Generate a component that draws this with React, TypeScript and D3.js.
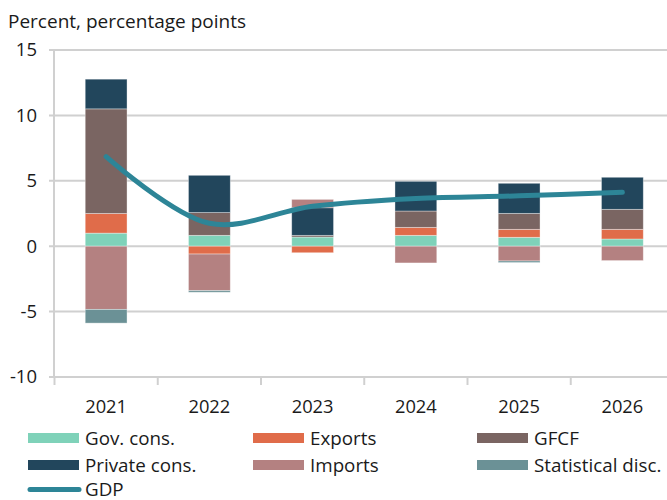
import React from "react";
import * as d3 from "d3";

const years = ["2021", "2022", "2023", "2024", "2025", "2026"];
const govCons = [1.0, 0.83, 0.7, 0.83, 0.68, 0.55];
const exportsC = [1.5, -0.6, -0.5, 0.61, 0.61, 0.74];
const gfcf = [8.0, 1.74, 0.13, 1.25, 1.22, 1.53];
const privateCons = [2.27, 2.85, 2.11, 2.27, 2.3, 2.45];
const importsC = [-4.83, -2.8, 0.64, -1.28, -1.13, -1.1];
const statDisc = [-1.05, -0.12, 0, 0, -0.12, 0];
const gdp = [6.85, 1.75, 3.05, 3.65, 3.85, 4.12];
const yTicks = [15, 10, 5, 0, -5, -10];

const seriesNames = ["Gov. cons.", "Exports", "GFCF", "Private cons.", "Imports", "Statistical disc."];
const seriesValues = [govCons, exportsC, gfcf, privateCons, importsC, statDisc];
const seriesColors = ["#7fd2b9", "#e06c4a", "#7a6562", "#22465c", "#b48181", "#6b9196"];
const gdpColor = "#2d8597";

const W = 667;
const H = 500;
const FONT = "'Open Sans', Lato, sans-serif";

export default function App() {
  const x = d3.scaleBand<string>().domain(years).range([54.5, 674]).padding(0);
  const y = d3.scaleLinear().domain([-10, 15]).range([377, 50]);
  const barW = x.bandwidth() * 0.405;

  const rows = years.map((yr, i) => {
    const r: Record<string, number | string> = { year: yr };
    seriesNames.forEach((n, k) => (r[n] = seriesValues[k][i]));
    return r;
  });
  const stack = d3
    .stack<Record<string, number | string>>()
    .keys(seriesNames)
    .value((d, key) => d[key] as number)
    .offset(d3.stackOffsetDiverging);
  const stacked = stack(rows);

  const cx = (yr: string) => (x(yr) as number) + x.bandwidth() / 2;
  const line = d3
    .line<number>()
    .x((_, i) => cx(years[i]))
    .y((d) => y(d))
    .curve(d3.curveCatmullRom.alpha(0.5));

  const legendCols = [28, 253, 477];
  const legendRows = [438, 465, 489.5];
  const legendItems = seriesNames.map((n, k) => ({
    name: n,
    color: seriesColors[k],
    col: k % 3,
    row: Math.floor(k / 3),
  }));
  const LFS = 18.8;

  return (
    <svg width={W} height={H} style={{ display: "block", position: "absolute", left: 0, top: 0 }} fontFamily={FONT}>
      <rect x={0} y={0} width={W} height={H} fill="#fff" />
      <text x={8} y={28} fontSize={19} fill="#1a1a1a">
        Percent, percentage points
      </text>
      {yTicks.map((t) => (
        <g key={t}>
          <line x1={49} x2={W} y1={y(t)} y2={y(t)} stroke="#d0d0d0" strokeWidth={2} />
          <text x={37} y={y(t)} dy="0.35em" textAnchor="end" fontSize={18.5} fill="#1a1a1a">
            {t}
          </text>
        </g>
      ))}
      <line x1={54} x2={54} y1={50} y2={377} stroke="#d0d0d0" strokeWidth={2} />
      {years.map((yr) => (
        <line key={"t" + yr} x1={x(yr)} x2={x(yr)} y1={377} y2={385} stroke="#d0d0d0" strokeWidth={2} />
      ))}
      {stacked.map((s, k) => (
        <g key={s.key} fill={seriesColors[k]}>
          {s.map((d, i) => {
            const y0 = y(d[0]);
            const y1 = y(d[1]);
            const h = Math.abs(y0 - y1);
            if (h < 0.01) return null;
            return (
              <rect
                key={i}
                x={cx(years[i]) - barW / 2}
                width={barW}
                y={Math.min(y0, y1)}
                height={h}
                stroke="#ffffff"
                strokeOpacity={0.45}
                strokeWidth={0.8}
              />
            );
          })}
        </g>
      ))}
      <path d={line(gdp) || ""} fill="none" stroke={gdpColor} strokeWidth={5} strokeLinecap="round" />
      {years.map((yr) => (
        <text key={"l" + yr} x={cx(yr)} y={407} dy="0.35em" textAnchor="middle" fontSize={18.3} fill="#1a1a1a">
          {yr}
        </text>
      ))}
      {legendItems.map((it) => (
        <g key={it.name}>
          <rect x={legendCols[it.col]} y={legendRows[it.row] - 5} width={51} height={10} fill={it.color} />
          <text x={legendCols[it.col] + 57} y={legendRows[it.row]} dy="0.35em" fontSize={LFS} fill="#1a1a1a">
            {it.name}
          </text>
        </g>
      ))}
      <line x1={legendCols[0] + 2} x2={legendCols[0] + 51} y1={legendRows[2]} y2={legendRows[2]} stroke={gdpColor} strokeWidth={5} strokeLinecap="round" />
      <text x={legendCols[0] + 57} y={legendRows[2]} dy="0.35em" fontSize={LFS} fill="#1a1a1a">
        GDP
      </text>
    </svg>
  );
}
